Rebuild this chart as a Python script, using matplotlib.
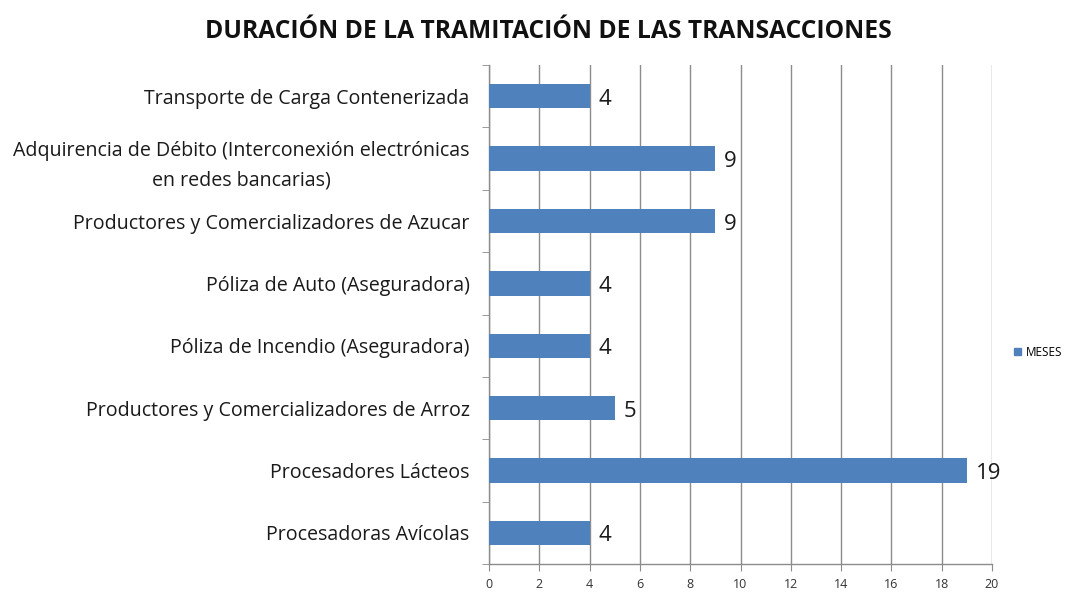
import matplotlib.pyplot as plt
from matplotlib.patches import Patch

plt.rcParams["font.family"] = ["Open Sans", "DejaVu Sans"]

# Data (bottom to top)
CATEGORIES = [
    "Procesadoras Avícolas",
    "Procesadores Lácteos",
    "Productores y Comercializadores de Arroz",
    "Póliza de Incendio (Aseguradora)",
    "Póliza de Auto (Aseguradora)",
    "Productores y Comercializadores de Azucar",
    "Adquirencia de Débito (Interconexión electrónicas\nen redes bancarias)",
    "Transporte de Carga Contenerizada",
]
MESES = [4, 19, 5, 4, 4, 9, 9, 4]
X_TICKS = list(range(0, 21, 2))

BAR_COLOR = "#4F81BD"
GRID_COLOR = "#8C8C8C"

fig = plt.figure(figsize=(10.85, 5.92), dpi=100)
ax = fig.add_axes([0.4507, 0.0473, 0.4636, 0.8427])

y = list(range(len(CATEGORIES)))
ax.barh(y, MESES, height=0.39, color=BAR_COLOR, zorder=3, label="MESES")

for yi, v in zip(y, MESES):
    ax.text(v + 0.35, yi - 0.05, str(v), va="center", ha="left",
            fontsize=16, color="#1a1a1a", zorder=4)

ax.set_xlim(0, 20)
ax.set_ylim(-0.5, len(CATEGORIES) - 0.5)
ax.set_xticks(X_TICKS)
ax.tick_params(axis="x", labelsize=9, colors=GRID_COLOR, labelcolor="#333333",
               length=5, direction="out", pad=5)
ax.xaxis.grid(True, color=GRID_COLOR, lw=1.0, zorder=0)

# y labels centered on categories, tick marks at boundaries
ax.set_yticks(y)
ax.set_yticklabels(CATEGORIES, fontsize=14.1, color="#1a1a1a",
                   multialignment="center", linespacing=1.6)
ax.tick_params(axis="y", length=0, pad=14)
ax.set_yticks([i - 0.5 for i in range(len(CATEGORIES) + 1)], minor=True)
ax.tick_params(axis="y", which="minor", length=5, color=GRID_COLOR, direction="out")

for s in ["top", "right"]:
    ax.spines[s].set_visible(False)
for s in ["left", "bottom"]:
    ax.spines[s].set_color(GRID_COLOR)
    ax.spines[s].set_linewidth(1.0)

fig.text(0.505, 0.947, "DURACIÓN DE LA TRAMITACIÓN DE LAS TRANSACCIONES",
         ha="center", va="center", fontsize=17.7, fontweight="bold", color="#111111")

fig.legend(handles=[Patch(color=BAR_COLOR, label="MESES")], loc="center left",
           bbox_to_anchor=(0.925, 0.405), frameon=False, fontsize=8.5,
           handlelength=0.6, handleheight=0.6, handletextpad=0.4)

fig.savefig("out.png", dpi=100)
